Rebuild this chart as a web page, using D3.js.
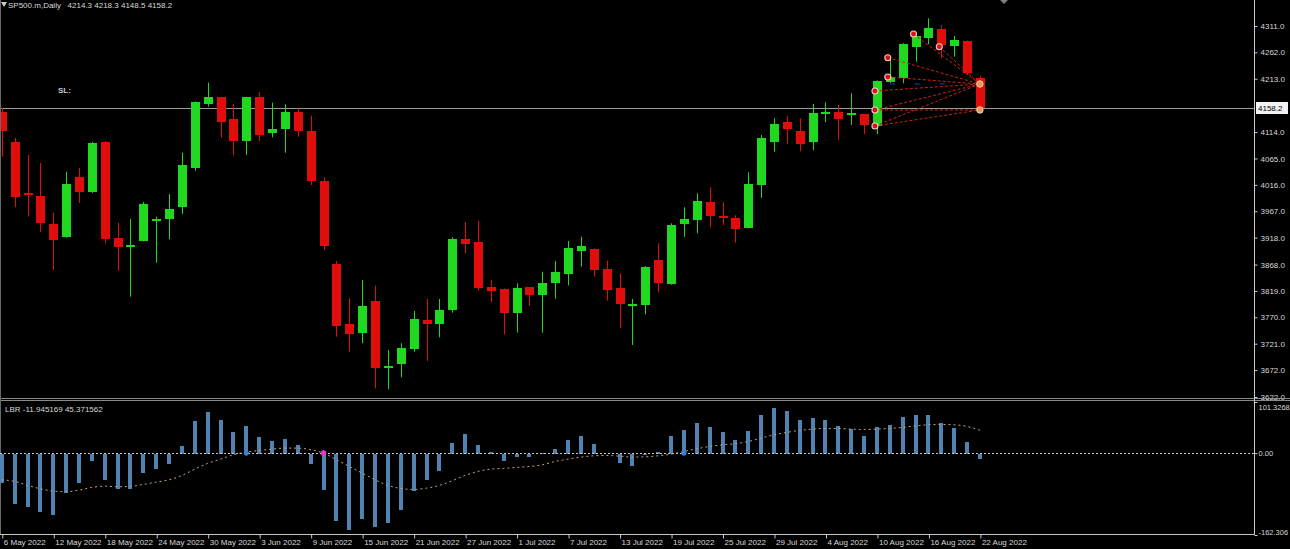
<!DOCTYPE html>
<html>
<head>
<meta charset="utf-8">
<script src="https://cdn.jsdelivr.net/npm/d3@7"></script>
<style>
    html, body { margin: 0; background: #000; overflow: hidden; }
    svg { display: block; }
    text { font-family: "Liberation Sans", Arial, sans-serif; }
</style>
</head>
<body>
<svg id="chart" width="1290" height="549"></svg>
<script>
// Data
const symbol = 'SP500.m,Daily';

const dates = [
    '2022-05-06', '2022-05-09', '2022-05-10', '2022-05-11', '2022-05-12', '2022-05-13', '2022-05-16', '2022-05-17',
    '2022-05-18', '2022-05-19', '2022-05-20', '2022-05-23', '2022-05-24', '2022-05-25', '2022-05-26', '2022-05-27',
    '2022-05-30', '2022-05-31', '2022-06-01', '2022-06-02', '2022-06-03', '2022-06-06', '2022-06-07', '2022-06-08',
    '2022-06-09', '2022-06-10', '2022-06-13', '2022-06-14', '2022-06-15', '2022-06-16', '2022-06-17', '2022-06-20',
    '2022-06-21', '2022-06-22', '2022-06-23', '2022-06-24', '2022-06-27', '2022-06-28', '2022-06-29', '2022-06-30',
    '2022-07-01', '2022-07-04', '2022-07-05', '2022-07-06', '2022-07-07', '2022-07-08', '2022-07-11', '2022-07-12',
    '2022-07-13', '2022-07-14', '2022-07-15', '2022-07-18', '2022-07-19', '2022-07-20', '2022-07-21', '2022-07-22',
    '2022-07-25', '2022-07-26', '2022-07-27', '2022-07-28', '2022-07-29', '2022-08-01', '2022-08-02', '2022-08-03',
    '2022-08-04', '2022-08-05', '2022-08-08', '2022-08-09', '2022-08-10', '2022-08-11', '2022-08-12', '2022-08-15',
    '2022-08-16', '2022-08-17', '2022-08-18', '2022-08-19', '2022-08-22'
];

const open = [
    4151.9, 4095.0, 4000.9, 3995.3, 3943.3, 3919.7, 4031.2, 4003.3, 4095.6, 3917.3,
    3900.5, 3912.3, 3949.8, 3952.0, 3974.3, 4046.7, 4165.6, 4178.6, 4138.3, 4097.4,
    4178.6, 4111.7, 4119.2, 4151.3, 4116.0, 4023.2, 3868.5, 3757.6, 3740.3, 3800.3,
    3678.7, 3682.8, 3711.2, 3765.0, 3758.2, 3783.6, 3916.0, 3910.4, 3826.9, 3822.6,
    3778.6, 3825.8, 3812.0, 3834.3, 3850.5, 3893.7, 3896.9, 3859.7, 3823.9, 3792.0,
    3792.3, 3875.9, 3832.4, 3943.3, 3950.7, 3984.7, 3958.9, 3955.0, 3936.4, 4016.3,
    4095.6, 4132.7, 4116.0, 4095.6, 4149.2, 4150.7, 4146.0, 4147.0, 4125.3, 4206.5,
    4213.9, 4272.0, 4289.3, 4305.4, 4273.9, 4283.1, 4214.3
];
const high = [
    4158.7, 4103.6, 4071.4, 4056.6, 3964.3, 4040.4, 4047.3, 4096.0, 4097.4, 3945.7,
    3952.6, 3984.2, 3956.9, 3998.9, 4075.7, 4171.0, 4205.7, 4179.5, 4166.2, 4179.5,
    4188.4, 4168.6, 4165.6, 4158.2, 4144.4, 4030.0, 3874.6, 3805.3, 3839.3, 3828.7,
    3709.3, 3721.8, 3781.8, 3804.0, 3804.0, 3918.6, 3947.0, 3948.9, 3839.3, 3823.5,
    3833.2, 3826.5, 3854.7, 3874.6, 3911.7, 3919.7, 3898.0, 3875.2, 3851.8, 3804.0,
    3865.0, 3907.5, 3944.6, 3974.3, 4000.3, 4011.5, 3983.6, 3959.5, 4039.3, 4108.6,
    4139.6, 4143.9, 4139.6, 4166.2, 4169.3, 4164.3, 4186.0, 4148.0, 4210.0, 4252.1,
    4279.0, 4298.6, 4325.3, 4312.9, 4292.4, 4284.0, 4218.3
];
const low = [
    4068.3, 3974.3, 3956.9, 3928.5, 3857.9, 3918.0, 3982.3, 4001.0, 3908.0, 3856.6,
    3808.3, 3911.0, 3871.5, 3914.9, 3961.9, 4042.3, 4161.1, 4103.6, 4071.4, 4071.4,
    4097.4, 4104.3, 4075.7, 4105.4, 4015.7, 3895.0, 3734.0, 3706.2, 3721.8, 3638.2,
    3636.4, 3658.6, 3706.2, 3688.9, 3732.9, 3778.6, 3888.9, 3819.5, 3797.9, 3738.5,
    3741.5, 3791.0, 3741.5, 3804.6, 3829.5, 3864.0, 3845.5, 3800.9, 3749.6, 3718.6,
    3775.6, 3816.5, 3830.6, 3919.7, 3926.0, 3937.7, 3941.5, 3908.6, 3935.0, 3991.6,
    4077.6, 4092.4, 4078.3, 4080.2, 4132.7, 4099.3, 4127.2, 4110.4, 4110.4, 4205.4,
    4204.6, 4244.7, 4277.0, 4251.0, 4254.0, 4220.0, 4148.5
];
const close = [
    4116.0, 3994.0, 3997.2, 3945.7, 3913.6, 4017.6, 4003.3, 4094.3, 3914.9, 3900.0,
    3903.4, 3980.5, 3951.7, 3970.6, 4052.9, 4169.9, 4179.7, 4133.3, 4097.4, 4178.6,
    4108.6, 4119.7, 4151.3, 4116.0, 4023.2, 3903.0, 3753.9, 3739.3, 3791.0, 3676.5,
    3680.5, 3713.6, 3766.9, 3757.6, 3783.6, 3914.9, 3906.7, 3824.5, 3818.9, 3777.5,
    3825.0, 3811.5, 3833.2, 3853.6, 3898.2, 3902.5, 3857.9, 3820.8, 3794.2, 3793.9,
    3864.0, 3834.3, 3942.0, 3952.0, 3986.0, 3958.2, 3957.0, 3934.0, 4017.6, 4102.5,
    4129.6, 4119.2, 4092.4, 4148.9, 4151.2, 4138.9, 4148.5, 4127.2, 4208.9, 4216.3,
    4278.1, 4292.4, 4307.8, 4275.7, 4284.4, 4224.3, 4158.2
];

// LBR oscillator histogram and its signal line
const lbr = [
    -59.5, -101, -107, -117, -122, -79, -59.5, -16.5, -54, -70.7,
    -70.7, -40, -31.7, -21.1, 14.5, 64, 81.3, 65.4, 41.6, 53.5,
    31.1, 23.8, 28.4, 15.2, -21.8, -73.3, -135.4, -153.2, -130, -146.7,
    -138.7, -112.3, -74.7, -54, -35, 19.8, 37.7, 15.2, 2, -16.5,
    -8.6, -8.6, 1, 8.6, 26.4, 33, 18.5, -2, -19.8, -25.8,
    -3, 2, 33, 45, 58.8, 50.9, 41, 26.4, 44.2, 74.7,
    89.2, 83.8, 64.8, 69.4, 64.8, 53.5, 48.2, 33, 50.9, 56.1,
    71.3, 75.9, 75.9, 60.1, 49.5, 21.8, -11.945169
];
const signal = [
    -52.9, -56, -64, -70.7, -75.3, -76.6, -73.3, -68, -65.4, -66.7,
    -66, -62, -57.5, -52.9, -44.2, -31.7, -20.4, -11.9, -3.3, 2,
    5.3, 7.9, 9.9, 9.9, 6.6, 0, -13.2, -26.4, -39.6, -52.9,
    -64, -70, -72, -69.4, -64, -54.8, -44.2, -36.3, -31.7, -30.4,
    -28.4, -26.4, -23.1, -16.5, -11.9, -7.9, -5.3, -4.6, -6, -7.9,
    -7.3, -5.3, -2, 3.3, 8.6, 13.2, 16.5, 18.5, 23.1, 29.7,
    36.3, 41, 45, 47.6, 48.9, 48.9, 47.6, 47, 47.6, 48.9,
    50.9, 54.1, 56.1, 56.8, 56.1, 52.9, 45.371562
];
const crossUp = [19, 53];
const crossDown = [25];

// Axis tick labels
const priceTicks = [4311, 4262, 4213, 4114, 4065, 4016, 3967, 3918, 3868, 3819, 3770, 3721, 3672, 3622];
const lbrTicks = [101.3268, 0, -162.306];
const lbrTickLabels = ['101.3268', '0.00', '-162.306'];

// Trend fan drawn on the last bars: [bar index, price]
const fanPoints = [[68, 4190.3], [68, 4155.0], [68, 4125.3], [69, 4252.1], [69, 4216.3], [71, 4296.1], [73, 4272.6]];
const fanTargets = [[76, 4203.3], [76, 4155.0]];
const fanToBoth = [1, 2];

// Layout
const width = 1290;
const axisX = 1254;
const mainBottom = 398;
const subTop = 402;
const subBottom = 535;
const timeAxisY = 534;

const bull = '#1fd81f';
const bear = '#e10d0d';

const svg = d3.select('#chart');
svg.append('rect').attr('width', width).attr('height', 549).attr('fill', '#000');

const xScale = d3.scalePoint()
    .domain(dates)
    .range([1.8, 979.9]);

const yPrice = d3.scaleLinear()
    .domain([3622, 4311])
    .range([397, 26]);

const yLbr = d3.scaleLinear()
    .domain([-162.306, 101.3268])
    .range([subBottom, subTop]);

const px = (i) => Math.round(xScale(dates[i]));

// main panel clip
svg.append('clipPath').attr('id', 'main-clip')
    .append('rect').attr('x', 0).attr('y', 0).attr('width', axisX).attr('height', mainBottom);

const main = svg.append('g').attr('clip-path', 'url(#main-clip)');

// current price line
main.append('line')
    .attr('x1', 0).attr('x2', axisX)
    .attr('y1', Math.round(yPrice(close[76])) + 0.5)
    .attr('y2', Math.round(yPrice(close[76])) + 0.5)
    .attr('stroke', '#9a9a9a')
    .attr('stroke-width', 1);

// candles
const candles = main.append('g').attr('class', 'candles');
dates.forEach((d, i) => {
    const color = close[i] >= open[i] ? bull : bear;
    const x = px(i);
    candles.append('line')
        .attr('x1', x + 0.5).attr('x2', x + 0.5)
        .attr('y1', yPrice(high[i])).attr('y2', yPrice(low[i]))
        .attr('stroke', color)
        .attr('stroke-width', 1);
    const top = Math.round(yPrice(Math.max(open[i], close[i])));
    const bot = Math.round(yPrice(Math.min(open[i], close[i])));
    candles.append('rect')
        .attr('x', x - 4)
        .attr('y', top)
        .attr('width', 9)
        .attr('height', Math.max(2, bot - top))
        .attr('fill', color)
        .attr('shape-rendering', 'crispEdges');
});

// fan lines
const fan = main.append('g').attr('class', 'fan');
fanPoints.forEach((p, k) => {
    const targets = fanToBoth.includes(k) ? fanTargets : [fanTargets[0]];
    targets.forEach(t => {
        fan.append('line')
            .attr('x1', xScale(dates[p[0]]) - 2).attr('y1', yPrice(p[1]))
            .attr('x2', xScale(dates[t[0]])).attr('y2', yPrice(t[1]))
            .attr('stroke', '#c8231c')
            .attr('stroke-width', 1)
            .attr('stroke-dasharray', '3,2');
    });
});

// small blue dashes
fan.append('line')
    .attr('x1', xScale(dates[69])).attr('x2', xScale(dates[74]))
    .attr('y1', yPrice(fanTargets[0][1])).attr('y2', yPrice(fanTargets[0][1]))
    .attr('stroke', '#2040c0')
    .attr('stroke-width', 1)
    .attr('stroke-dasharray', '5,20');

fan.selectAll('circle.pt')
    .data(fanPoints)
    .join('circle')
    .attr('class', 'pt')
    .attr('cx', d => xScale(dates[d[0]]) - 2)
    .attr('cy', d => yPrice(d[1]))
    .attr('r', 3)
    .attr('fill', '#d51515')
    .attr('stroke', '#f4c8c0')
    .attr('stroke-width', 1.1);

fan.selectAll('circle.tg')
    .data(fanTargets)
    .join('circle')
    .attr('class', 'tg')
    .attr('cx', d => xScale(dates[d[0]]))
    .attr('cy', d => yPrice(d[1]))
    .attr('r', 3.2)
    .attr('fill', '#e89a5a')
    .attr('stroke', '#f7d2a8')
    .attr('stroke-width', 1);

// header text
svg.append('path')
    .attr('d', 'M1,2 L7,2 L4,7 Z')
    .attr('fill', '#c8c8c8');
svg.append('text')
    .attr('x', 8).attr('y', 8)
    .attr('fill', '#d8d8d8')
    .style('font-size', '8px')
    .attr('xml:space', 'preserve')
    .text(`${symbol}   ${open[76]} ${high[76]} ${low[76]} ${close[76]}`);

svg.append('text')
    .attr('x', 58).attr('y', 93)
    .attr('fill', '#c8c8c8')
    .style('font-size', '8px')
    .style('font-weight', 'bold')
    .text('SL:');

// shift marker at top
svg.append('path')
    .attr('d', 'M1000,0 L1008,0 L1004,4 Z')
    .attr('fill', '#808080');

// price axis
const yAxis = svg.append('g')
    .attr('transform', `translate(${axisX + 0.5},0)`)
    .call(d3.axisRight(yPrice).tickValues(priceTicks).tickSize(3).tickPadding(3).tickFormat(d => d.toFixed(1)));
yAxis.select('.domain').remove();
yAxis.selectAll('.tick line').attr('stroke', '#c8c8c8');
yAxis.selectAll('text')
    .attr('fill', '#d8d8d8')
    .style('font-size', '8px');

// current price label
const cy = Math.round(yPrice(close[76]));
svg.append('rect')
    .attr('x', axisX + 2).attr('y', cy - 6)
    .attr('width', 32).attr('height', 12)
    .attr('fill', '#f2f2f2');
svg.append('text')
    .attr('x', axisX + 4).attr('y', cy + 3)
    .attr('fill', '#000')
    .style('font-size', '8px')
    .text(close[76].toFixed(1));

// panel separators and frame
[mainBottom + 0.5, mainBottom + 2.5].forEach(y => {
    svg.append('line')
        .attr('x1', 0).attr('x2', width)
        .attr('y1', y).attr('y2', y)
        .attr('stroke', '#8a8a8a');
});
svg.append('line')
    .attr('x1', axisX + 0.5).attr('x2', axisX + 0.5)
    .attr('y1', 0).attr('y2', timeAxisY)
    .attr('stroke', '#c8c8c8');
svg.append('line')
    .attr('x1', 0.5).attr('x2', 0.5)
    .attr('y1', 0).attr('y2', timeAxisY)
    .attr('stroke', '#6a6a6a');

// indicator panel
const sub = svg.append('g');
const zeroY = Math.round(yLbr(0)) + 0.5;

sub.append('g')
    .selectAll('rect')
    .data(lbr)
    .join('rect')
    .attr('x', (d, i) => px(i) - 2)
    .attr('y', d => d >= 0 ? yLbr(d) : zeroY)
    .attr('width', 4)
    .attr('height', d => Math.abs(yLbr(d) - zeroY))
    .attr('fill', '#5082b2')
    .attr('shape-rendering', 'crispEdges');

sub.append('line')
    .attr('x1', 0).attr('x2', axisX)
    .attr('y1', zeroY).attr('y2', zeroY)
    .attr('stroke', '#c8c8c8')
    .attr('stroke-width', 1)
    .attr('stroke-dasharray', '2,2');

const signalLine = d3.line()
    .x((d, i) => xScale(dates[i]))
    .y(d => yLbr(d))
    .curve(d3.curveMonotoneX);

sub.append('path')
    .attr('d', signalLine(signal))
    .attr('fill', 'none')
    .attr('stroke', '#c9a27a')
    .attr('stroke-width', 1)
    .attr('stroke-dasharray', '2,3');

sub.selectAll('circle.up')
    .data(crossUp)
    .join('circle')
    .attr('class', 'up')
    .attr('cx', d => xScale(dates[d]))
    .attr('cy', yLbr(0))
    .attr('r', 2.6)
    .attr('fill', '#3a7fd8');

sub.selectAll('circle.down')
    .data(crossDown)
    .join('circle')
    .attr('class', 'down')
    .attr('cx', d => xScale(dates[d]))
    .attr('cy', yLbr(0))
    .attr('r', 2.8)
    .attr('fill', '#ee33cc');

sub.append('text')
    .attr('x', 5).attr('y', 412)
    .attr('fill', '#d8d8d8')
    .style('font-size', '8px')
    .text(`LBR ${lbr[76]} ${signal[76]}`);

// indicator axis
const lbrAxis = svg.append('g')
    .attr('transform', `translate(${axisX + 0.5},0)`)
    .call(d3.axisRight(yLbr).tickValues(lbrTicks).tickSize(3).tickPadding(1).tickFormat((d, i) => lbrTickLabels[i]));
lbrAxis.select('.domain').remove();
lbrAxis.selectAll('.tick line').attr('stroke', '#c8c8c8');
lbrAxis.selectAll('text')
    .attr('fill', '#d8d8d8')
    .style('font-size', '7.5px')
    .attr('dy', (d, i) => i === 0 ? '1.0em' : (i === 2 ? '-0.1em' : '0.32em'));

// time axis
const parse = d3.timeParse('%Y-%m-%d');
const fmt = d3.timeFormat('%-d %b %Y');
const xAxis = svg.append('g')
    .attr('transform', `translate(0.5,${timeAxisY + 0.5})`)
    .call(d3.axisBottom(xScale)
        .tickValues(dates.filter((d, i) => i % 4 === 0))
        .tickSize(4)
        .tickPadding(1)
        .tickFormat(d => fmt(parse(d))));
xAxis.select('.domain').remove();
xAxis.selectAll('.tick line').attr('stroke', '#c8c8c8');
xAxis.selectAll('text')
    .attr('fill', '#d8d8d8')
    .attr('text-anchor', 'start')
    .attr('x', 1)
    .style('font-size', '8px');
svg.append('line')
    .attr('x1', 0).attr('x2', axisX + 1)
    .attr('y1', timeAxisY + 0.5).attr('y2', timeAxisY + 0.5)
    .attr('stroke', '#c8c8c8');
</script>
</body>
</html>
